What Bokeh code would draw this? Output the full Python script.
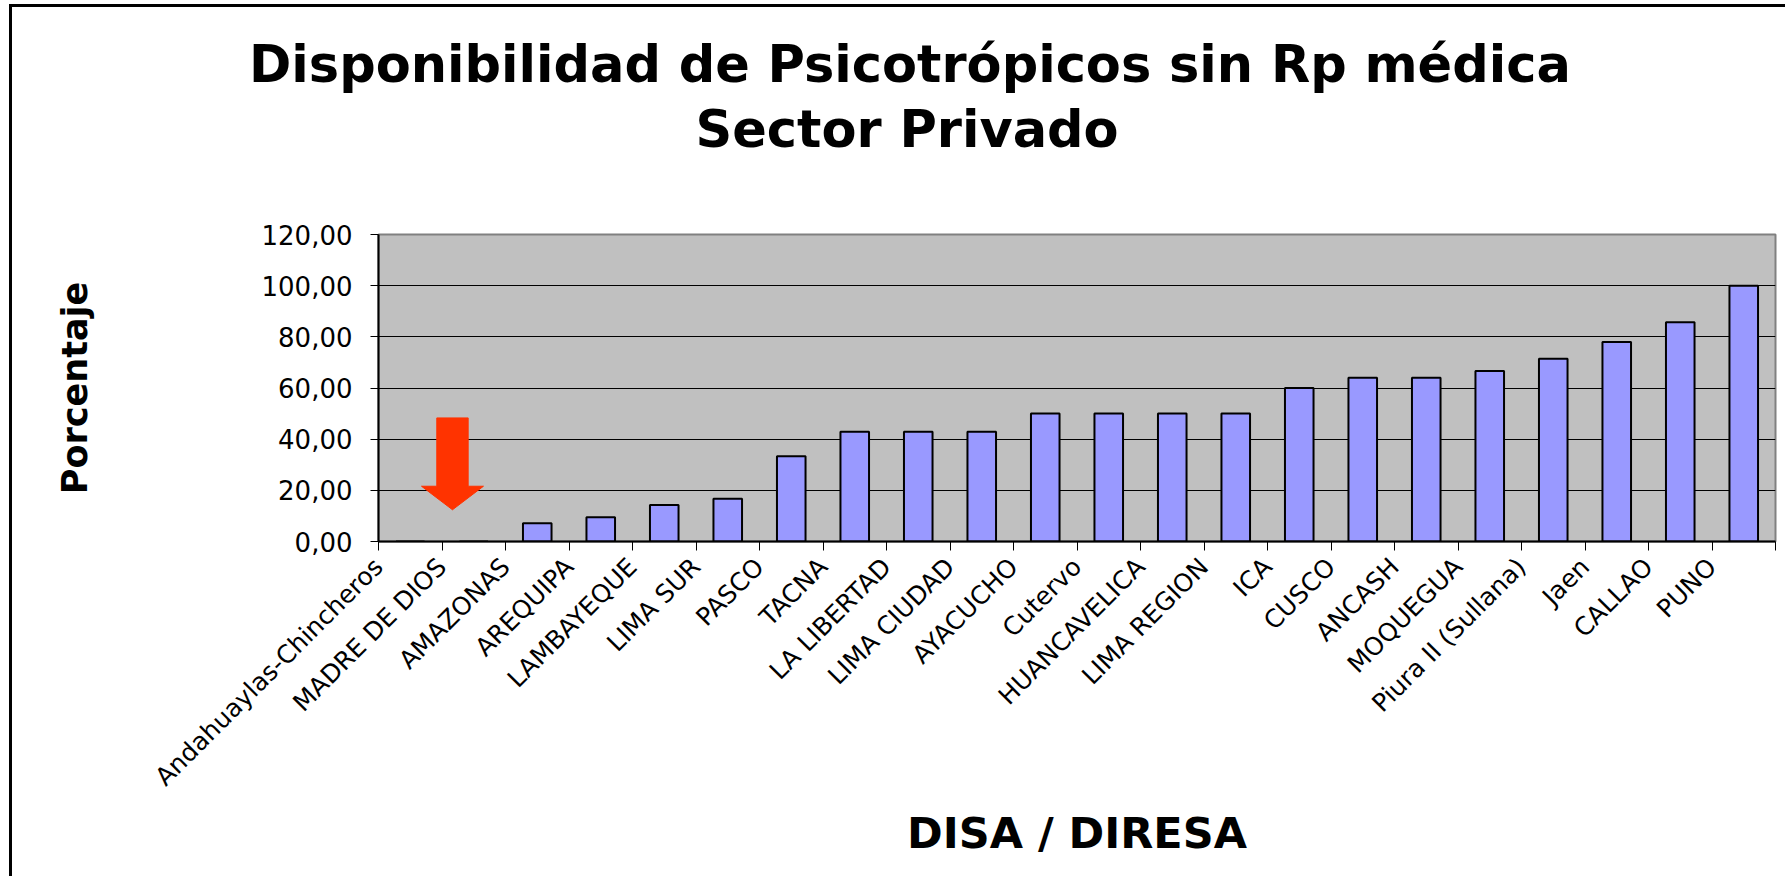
import math
from bokeh.plotting import figure
from bokeh.models import (Range1d, LinearAxis, FixedTicker, ColumnDataSource,
                          CustomJSTickFormatter, Title)
from bokeh.embed import file_html
from bokeh.resources import INLINE

# ---------------- data ----------------
title_lines = ["Disponibilidad de Psicotrópicos sin Rp médica", "Sector Privado"]
y_axis_title = "Porcentaje"
x_axis_title = "DISA / DIRESA"

categories = ["Andahuaylas-Chincheros", "MADRE DE DIOS", "AMAZONAS", "AREQUIPA",
              "LAMBAYEQUE", "LIMA SUR", "PASCO", "TACNA", "LA LIBERTAD",
              "LIMA CIUDAD", "AYACUCHO", "Cutervo", "HUANCAVELICA", "LIMA REGION",
              "ICA", "CUSCO", "ANCASH", "MOQUEGUA", "Piura II (Sullana)", "Jaen",
              "CALLAO", "PUNO"]
values = [0.0, 0.0, 7.14, 9.52, 14.29, 16.67, 33.33, 42.86, 42.86, 42.86,
          50.0, 50.0, 50.0, 50.0, 60.0, 64.0, 64.0, 66.67, 71.43, 78.0,
          85.71, 100.0]

y_ticks = [0, 20, 40, 60, 80, 100, 120]
y_tick_labels = ["0,00", "20,00", "40,00", "60,00", "80,00", "100,00", "120,00"]

# red arrow annotation (pointing down at MADRE DE DIOS)
arrow_category = "MADRE DE DIOS"
arrow_from = 48.3
arrow_to = 12.4

# ---------------- figure ----------------
N = len(categories)
slot = list(range(N))                 # category slot index
centers = [i + 0.5 for i in slot]     # category centers on the slot scale

p = figure(width=1776, height=872,
           x_range=Range1d(0, N),
           y_range=Range1d(y_ticks[0], y_ticks[-1]),
           title_location=None,
           toolbar_location=None, output_backend="svg",
           min_border_left=366, min_border_right=13,
           min_border_top=227, min_border_bottom=338)
p.styles = {"margin-left": "9px", "margin-top": "4px",
            "border-left": "3px solid black", "border-top": "3px solid black"}

p.background_fill_color = "#C0C0C0"
p.border_fill_color = "white"
p.outline_line_color = "#808080"
p.outline_line_width = 2

# bars
src = ColumnDataSource(data=dict(x=centers, top=values, name=categories))
p.vbar(x="x", top="top", width=0.45, bottom=0, source=src,
       fill_color="#9999FF", line_color="black", line_width=2)

# arrow
ac = categories.index(arrow_category) + 0.5
c, hs, hh, head = ac - 0.335, 0.247, 0.488, 9.2
ax = [c - hs, c + hs, c + hs, c + hh, c, c - hh, c - hs]
ay = [arrow_from, arrow_from, arrow_to + head, arrow_to + head, arrow_to,
      arrow_to + head, arrow_to + head]
p.patch(x=ax, y=ay, fill_color="#FF3300", line_color="#FF3300", line_width=1)

# y axis
yax = p.yaxis[0]
yax.ticker = FixedTicker(ticks=y_ticks)
yax.major_label_overrides = {t: lab for t, lab in zip(y_ticks, y_tick_labels)}
yax.major_tick_out = 8
yax.major_tick_in = 0
yax.minor_tick_out = 0
yax.minor_tick_in = 0
yax.major_tick_line_color = "black"
yax.axis_line_color = "black"
yax.axis_line_width = 2
yax.major_label_standoff = 18
yax.major_label_text_font = "DejaVu Sans"
yax.major_label_text_font_size = "26px"
yax.major_label_text_color = "black"
yax.axis_label = y_axis_title
yax.axis_label_text_font = "DejaVu Sans"
yax.axis_label_text_font_size = "35px"
yax.axis_label_text_font_style = "bold"
yax.axis_label_text_color = "black"
yax.axis_label_standoff = 164

p.ygrid.ticker = FixedTicker(ticks=y_ticks)
p.ygrid.grid_line_color = "black"
p.ygrid.grid_line_width = 1
p.xgrid.visible = False

# x axes: boundary ticks (default axis) + category labels
tick_axis = p.xaxis[0]
tick_axis.ticker = FixedTicker(ticks=slot + [N])
tick_axis.major_tick_out = 9
tick_axis.major_tick_in = 0
tick_axis.minor_tick_out = 0
tick_axis.minor_tick_in = 0
tick_axis.major_label_text_color = None
tick_axis.major_label_text_font_size = "1px"
tick_axis.major_label_standoff = 0
tick_axis.axis_line_color = "black"
tick_axis.axis_line_width = 2
tick_axis.major_tick_line_color = "black"

shift = 0.5   # rotated labels end left of the category centre
label_axis = LinearAxis(ticker=FixedTicker(ticks=[x - shift for x in centers]),
                        formatter=CustomJSTickFormatter(
                            args=dict(cats=categories, shift=shift),
                            code="return cats[Math.round(tick + shift - 0.5)];"),
                        axis_line_color=None, major_tick_line_color=None,
                        minor_tick_line_color=None,
                        major_tick_out=0, major_tick_in=0,
                        minor_tick_out=0, minor_tick_in=0,
                        major_label_orientation=math.pi / 4,
                        major_label_standoff=12,
                        major_label_text_font="DejaVu Sans",
                        major_label_text_font_size="25px",
                        major_label_text_color="black",
                        axis_label=x_axis_title,
                        axis_label_text_font="DejaVu Sans",
                        axis_label_text_font_size="43px",
                        axis_label_text_font_style="bold",
                        axis_label_text_color="black",
                        axis_label_standoff=3)
p.add_layout(label_axis, "below")

# titles: a blank spacer title keeps them clear of the plot frame
spacer = Title(text=" ", text_font_size="12px", standoff=58, text_color="white")
p.add_layout(spacer, "above")
t2 = Title(text=title_lines[1], align="left", offset=317, standoff=4,
           text_font="DejaVu Sans", text_font_size="51px", text_font_style="bold",
           text_color="black")
t1 = Title(text=title_lines[0], align="left", offset=-129.5, standoff=3,
           text_font="DejaVu Sans", text_font_size="51px", text_font_style="bold",
           text_color="black")
p.add_layout(t2, "above")
p.add_layout(t1, "above")

open("out.html", "w").write(file_html(p, INLINE))
